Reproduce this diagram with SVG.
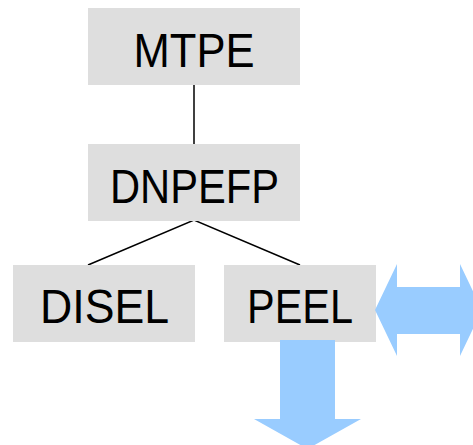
<svg xmlns="http://www.w3.org/2000/svg" width="473" height="445" viewBox="0 0 473 445">
<style>
.box{fill:#DEDEDE}
.lbl{font-family:"Liberation Sans",Arial,sans-serif;font-size:48px;fill:#000;text-anchor:middle}
.edge{stroke:#000;stroke-width:1.5;fill:none}
.blue{fill:#99CCFF}
</style>
<rect width="473" height="445" fill="#fff"/>
<g id="connectors">
<line class="edge" x1="194" y1="84" x2="194" y2="145"/>
<polyline class="edge" points="88,265 194,220 300,265"/>
</g>
<g id="MTPE">
<rect class="box" x="88" y="8" width="212" height="77"/>
<text class="lbl" x="194" y="67" textLength="121" lengthAdjust="spacingAndGlyphs">MTPE</text>
</g>
<g id="DNPEFP">
<rect class="box" x="88" y="144" width="212" height="77"/>
<text class="lbl" x="194.5" y="203" textLength="169" lengthAdjust="spacingAndGlyphs">DNPEFP</text>
</g>
<g id="DISEL">
<rect class="box" x="13" y="265" width="182" height="77"/>
<text class="lbl" x="104.5" y="323" textLength="129" lengthAdjust="spacingAndGlyphs">DISEL</text>
</g>
<g id="PEEL">
<rect class="box" x="224" y="265" width="152" height="77"/>
<text class="lbl" x="300" y="323" textLength="106" lengthAdjust="spacingAndGlyphs">PEEL</text>
</g>
<g id="arrows">
<polygon class="blue" points="375,310 397,264 397,287 460,287 460,264 482,310 460,356 460,334 397,334 397,356"/>
<polygon class="blue" points="280,340 335,340 335,419 361,419 307.5,449 254,419 280,419"/>
</g>
</svg>
